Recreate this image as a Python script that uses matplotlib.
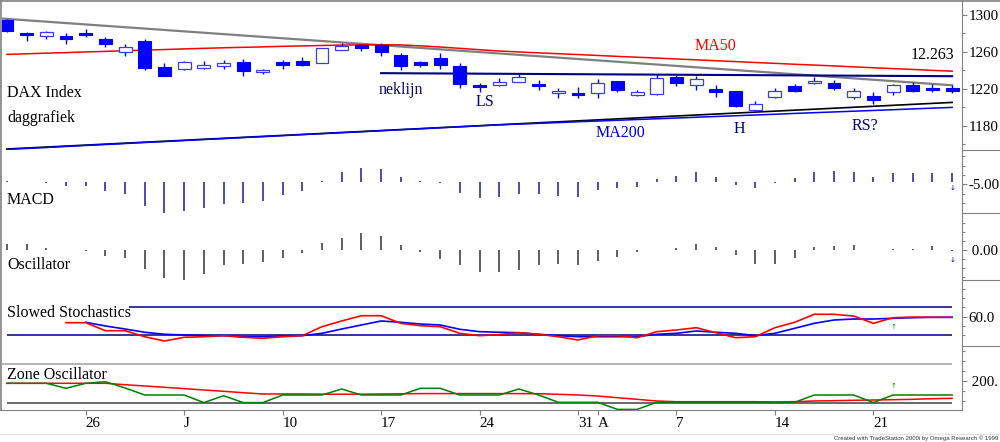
import numpy as np
import matplotlib.pyplot as plt
from matplotlib.patches import Rectangle
from matplotlib.lines import Line2D

W, H = 1000, 442

# DAX daily candles, 20 Jun .. 25 Aug (day index 0..48)
opens = [12946, 12801, 12772, 12772, 12801, 12743, 12598, 12717, 12439, 12410,
         12424, 12446, 12494, 12385, 12486, 12497, 12483, 12622, 12671, 12674,
         12562, 12486, 12529, 12446, 12243, 12241, 12272, 12250, 12160, 12156,
         12156, 12287, 12138, 12146, 12326, 12247, 12203, 12174, 11970, 12109,
         12228, 12265, 12265, 12113, 12127, 12163, 12247, 12214, 12214]
highs = [12950, 12812, 12820, 12801, 12852, 12765, 12689, 12743, 12475, 12500,
         12500, 12511, 12518, 12410, 12511, 12548, 12640, 12698, 12689, 12692,
         12591, 12504, 12591, 12483, 12265, 12317, 12363, 12301, 12211, 12222,
         12312, 12290, 12192, 12356, 12356, 12344, 12247, 12176, 12073, 12211,
         12258, 12330, 12301, 12211, 12163, 12252, 12272, 12258, 12239]
lows = [12815, 12717, 12736, 12689, 12765, 12657, 12554, 12402, 12334, 12405,
        12420, 12417, 12334, 12356, 12417, 12446, 12480, 12620, 12605, 12554,
        12402, 12439, 12410, 12207, 12163, 12236, 12270, 12185, 12102, 12102,
        12102, 12167, 12120, 12138, 12236, 12192, 12113, 12004, 11964, 12105,
        12163, 12258, 12185, 12091, 12037, 12135, 12167, 12163, 12156]
closes = [12823, 12783, 12812, 12739, 12787, 12682, 12657, 12421, 12337, 12494,
          12453, 12483, 12391, 12402, 12461, 12453, 12638, 12660, 12646, 12598,
          12446, 12461, 12461, 12254, 12225, 12279, 12326, 12228, 12178, 12130,
          12265, 12192, 12167, 12320, 12265, 12309, 12163, 12018, 12040, 12182,
          12182, 12290, 12211, 12182, 12076, 12247, 12182, 12192, 12182]

ma50 = [12573, 12579, 12586, 12592, 12599, 12605, 12612, 12619, 12625, 12632,
        12638, 12644, 12649, 12654, 12660, 12664, 12669, 12673, 12676, 12677,
        12675, 12665, 12652, 12638, 12623, 12609, 12599, 12589, 12580, 12571,
        12561, 12551, 12542, 12533, 12523, 12514, 12504, 12495, 12485, 12476,
        12466, 12457, 12448, 12438, 12428, 12419, 12410, 12400, 12391]
ma200 = [11546, 11557, 11567, 11578, 11589, 11599, 11610, 11621, 11631, 11642,
         11653, 11663, 11674, 11684, 11695, 11706, 11716, 11727, 11737, 11748,
         11759, 11769, 11780, 11790, 11801, 11812, 11820, 11828, 11836, 11845,
         11853, 11861, 11869, 11877, 11885, 11894, 11902, 11910, 11918, 11926,
         11935, 11943, 11951, 11959, 11967, 11975, 11984, 11992, 12000]

# hand drawn lines: (day, price) end points
downtrend_days = [-0.35, 48]
downtrend = [12961, 12239]
uptrend_days = [0, 48]
uptrend = [11551, 12054]
neck_days = [19, 48]
neckline = [12370, 12337]

macd = [2, -1, -3, -8, -8, -18, -25, -48, -64, -58,
        -52, -44, -43, -38, -27, -18, 2, 20, 27, 25,
        10, 2, -2, -22, -33, -30, -25, -25, -28, -30,
        -17, -13, -10, 5, 11, 19, 10, -7, -13, -2,
        7, 20, 22, 19, 9, 18, 18, 18, 17]
osc = [13, 13, 5, 1, -2, -12, -15, -37, -55, -59,
       -48, -29, -27, -23, -15, -5, 15, 25, 35, 28,
       10, -3, -17, -29, -43, -43, -40, -30, -27, -30,
       -22, -13, -3, 1, 5, 13, 7, -10, -28, -28,
       -15, 7, 8, 10, 1, 2, 3, 8, -1]

stoch_k_start = 3
stoch_k = [47.0, 47.0, 29.9, 29.9, 17.0, 7.8, 15.8, 17.0, 19.2, 15.8,
           13.6, 17.0, 19.2, 38.5, 50.7, 62.0, 62.0, 45.7, 40.6, 38.5,
           24.3, 19.2, 21.5, 25.6, 22.2, 17.0, 10.0, 19.2, 19.2, 14.9,
           27.8, 31.4, 36.3, 25.6, 14.9, 17.0, 36.3, 47.9, 65.0, 65.0,
           61.3, 45.7, 57.7, 59.2, 58.6, 58.6]
stoch_d_start = 4
stoch_d = [47.9, 40.0, 33.5, 26.5, 22.2, 20.7, 19.2, 19.2, 17.0, 17.0,
           18.5, 19.2, 24.3, 33.5, 42.1, 50.7, 47.9, 44.2, 42.1, 32.9,
           27.8, 26.5, 25.6, 22.2, 19.2, 17.0, 17.0, 17.0, 17.0, 22.2,
           24.3, 29.3, 26.5, 24.3, 19.2, 24.3, 35.0, 45.7, 52.8, 54.9,
           54.9, 56.4, 57.7, 58.6, 58.6]
stoch_levels = [80, 20]

zone = [188.5, 188.5, 188.5, 163.5, 188.5, 196.5, 165, 130, 130, 130,
        92, 126.5, 92, 92, 130, 130, 130, 160, 130, 130,
        130, 163.5, 163.5, 130, 130, 130, 160, 130, 93.5, 93.5,
        93.5, 58, 58, 93.5, 93.5, 93.5, 93.5, 93.5, 93.5, 93.5,
        93.5, 130, 130, 130, 92, 130, 130, 130, 130]
zone_avg = [188.5, 188.5, 188.5, 188.5, 188.5, 188.5, 181.5, 175, 168.5, 162,
            155, 148.5, 141.5, 135, 135, 135, 134, 134, 134, 135,
            136, 137, 137, 137, 137, 137, 137, 136.5, 133.5, 130,
            125, 116.5, 108.5, 100, 96.5, 96.5, 96.5, 96.5, 96.5, 95,
            96.5, 100, 101.5, 103.5, 105, 106.5, 108.5, 111.5, 113.5]
zone_levels = [285, 89]

tick_days = [4, 9, 14, 19, 24, 29, 30, 34, 39, 44]
tick_labels = ["26", "J", "10", "17", "24", "31", "A", "7", "14", "21"]

GREY = "#808080"
NAVY = "#000080"
BLUE = "#0000ff"
RED = "#ff0000"
GREEN = "#008000"

plt.rcParams["font.family"] = ["Liberation Serif", "DejaVu Sans"]

fig = plt.figure(figsize=(W / 100, H / 100), dpi=100)


def panel(top, bottom, ylim, ticks, labels, minor):
    ax = fig.add_axes([2 / W, 1 - bottom / H, 960 / W, (bottom - top) / H])
    for s in ("left", "top", "bottom"):
        ax.spines[s].set_visible(False)
    ax.spines["right"].set_color(GREY)
    ax.set_xlim(-0.25, 48.5)
    ax.set_ylim(*ylim)
    ax.set_xticks([])
    ax.yaxis.tick_right()
    ax.set_yticks(ticks, labels=labels)
    ax.set_yticks(minor, minor=True)
    ax.tick_params(axis="y", which="major", length=3.6, width=0.8,
                   color=GREY, pad=1, labelsize=10.8)
    ax.tick_params(axis="y", which="minor", length=2.2, width=0.8, color=GREY)
    return ax


def ftext(x, y, s, **kw):
    fig.text(x / W, 1 - y / H, s, va="center", ha="left", fontsize=11.5, **kw)


days = np.arange(len(opens))

# price panel
ax = panel(0, 150, (11540, 13160), [11800, 12200, 12600, 13000],
           ["1180", "1220", "1260", "1300"], [11600, 12000, 12400, 12800])
ax.plot(downtrend_days, downtrend, color=GREY, lw=1.6, zorder=1)
ax.plot(days, ma50, color=RED, lw=1.1, zorder=1)
ax.plot(uptrend_days, uptrend, color="black", lw=1.2, zorder=1)
ax.plot(days, ma200, color=BLUE, lw=1.1, zorder=1)
ax.plot(neck_days, neckline, color=NAVY, lw=1.5, zorder=1)
for d, o, h, l, c in zip(days, opens, highs, lows, closes):
    ax.vlines(d, l, h, color=BLUE, lw=1, zorder=2)
    lo, hi = min(o, c), max(o, c)
    if c < o:
        ax.add_patch(Rectangle((d - 0.33, lo), 0.66, max(hi - lo, 10),
                               facecolor=BLUE, edgecolor=BLUE, lw=0.8, zorder=3))
    else:
        ax.add_patch(Rectangle((d - 0.33, lo), 0.66, max(hi - lo, 10),
                               facecolor="white", edgecolor="#3a3aff", lw=0.9, zorder=3))

ftext(7, 93, "DAX Index")
ftext(7, 118, "daggrafiek")
ftext(379, 90, "neklijn", color=NAVY)
ftext(476, 102, "LS", color=NAVY)
ftext(695, 46, "MA50", color=RED)
ftext(911, 55, "12.263")
ftext(596, 133, "MA200", color="#0000cc")
ftext(734, 129, "H", color=NAVY)
ftext(852, 126, "RS?", color=NAVY)

# MACD panel
ax = panel(150, 213, (-62.4, 63.6), [-5], ["-5.00"],
           [-42.2, -23.6, 13.6, 32.2, 50.8])
ax.vlines(days, 0, macd, color="#1a1aa0", lw=1.1)
ax.text(48, -13, "\u2193", fontsize=5, ha="center", va="center",
        color=NAVY, family="DejaVu Sans")
ftext(7, 200, "MACD")

# Oscillator panel
ax = panel(213, 280, (-60, 74), [0], [" 0.00"], [-54, -36, -18, 18, 36, 54])
ax.vlines(days, 0, osc, color="#333333", lw=1.1)
ax.text(48, -19, "\u2193", fontsize=5, ha="center", va="center",
        color=NAVY, family="DejaVu Sans")
ftext(7, 265, "Oscillator")

# Slowed stochastics panel
ax = panel(280, 346, (-2.9, 138.5), [60], ["60.0"], [20, 40, 80, 100, 120])
ax.hlines(stoch_levels[0], 6.2, 48, color=NAVY, lw=1.1)
ax.hlines(stoch_levels[1], 0, 48, color=NAVY, lw=1.1)
ax.plot(np.arange(stoch_d_start, stoch_d_start + len(stoch_d)), stoch_d,
        color=BLUE, lw=1.2)
ax.plot(np.arange(stoch_k_start, stoch_k_start + len(stoch_k)), stoch_k,
        color=RED, lw=1.2)
ax.text(45, 38.5, "\u2191", fontsize=5, ha="center", va="center",
        color=GREEN, family="DejaVu Sans")
ftext(7, 313, "Slowed Stochastics")

# Zone oscillator panel
ax = panel(346, 410, (55, 375), [200], [" 200."], [100, 150, 250, 300, 350])
ax.hlines(zone_levels[0], -0.25, 48, color="#a0a0a0", lw=1.1)
ax.hlines(zone_levels[1], 0, 48, color="#404040", lw=1.1)
ax.plot(days, zone_avg, color=RED, lw=1.1)
ax.plot(days, zone, color=GREEN, lw=1.1)
ax.text(45, 176, "\u2191", fontsize=5, ha="center", va="center",
        color=GREEN, family="DejaVu Sans")
ax.spines["bottom"].set_visible(True)
ax.spines["bottom"].set_color(GREY)
ax.set_xticks(tick_days, labels=tick_labels)
ax.tick_params(axis="x", length=3.6, width=0.8, color=GREY, pad=1.5,
               labelsize=10.8)
for lab in ax.get_xticklabels():
    lab.set_horizontalalignment("left")
ftext(7, 375, "Zone Oscillator")

# frame and separators
for y in (150, 213, 280, 346):
    fig.add_artist(Line2D([962 / W, 1], [1 - y / H] * 2, color=GREY, lw=0.8))
fig.add_artist(Line2D([0, 1], [1 - 0.5 / H] * 2, color=GREY, lw=1.2))
fig.add_artist(Line2D([0.6 / W] * 2, [1, 1 - 410 / H], color=GREY, lw=1.2))
fig.add_artist(Line2D([0, 2 / W], [1 - 410 / H] * 2, color=GREY, lw=0.8))
fig.add_artist(Line2D([0, 1], [1 - 434 / H] * 2, color="#e0e0e0", lw=0.8))
fig.text(998 / W, 1 - 438.5 / H,
         "Created with TradeStation 2000i by Omega Research \u00a9 1999",
         ha="right", va="center", fontsize=4.3, family="Liberation Sans",
         color="#333333")

fig.savefig("out.png", dpi=100)
